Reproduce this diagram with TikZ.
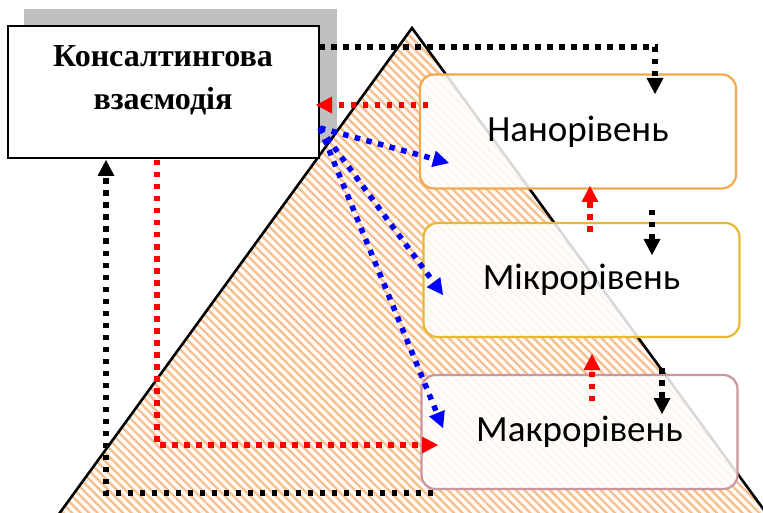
\documentclass[tikz,border=0pt]{standalone}
\usepackage{fontspec}
\setmainfont{Liberation Serif}
\newfontfamily\carl{Carlito}
\usetikzlibrary{arrows.meta,patterns.meta}
\definecolor{hatch}{HTML}{F7BE8A}
\definecolor{nanoc}{HTML}{F2A84C}
\definecolor{mikroc}{HTML}{E8B830}
\definecolor{makroc}{HTML}{CC96A0}
\definecolor{shadowc}{HTML}{BFBFBF}
\tikzdeclarepattern{
  name=myhatch,
  type=uncolored,
  bounding box={(-0.1pt,-0.1pt) and (6pt,6pt)},
  tile size={(6pt,6pt)},
  tile transformation={rotate=-45},
  code={\pgfsetlinewidth{2.2pt}\pgfpathmoveto{\pgfqpoint{-1pt}{3pt}}\pgfpathlineto{\pgfqpoint{7pt}{3pt}}\pgfusepath{stroke}}
}
\tikzset{
  con/.style={line width=5.5pt, dash pattern=on 5.5pt off 6.5pt, -{Triangle[width=17pt,length=16pt,line width=0pt]}},
  blk/.style={con, black},
  rd/.style={con, red},
  bl/.style={con, blue},
  lvl/.style={draw, line width=2.2pt, rounded corners=14pt, fill=white, fill opacity=0.85, text opacity=1,
    minimum width=316pt, minimum height=114pt, font=\carl\fontsize{37}{42}\selectfont, inner sep=0pt},
}
\begin{document}
\begin{tikzpicture}[x=1pt,y=-1pt]
\useasboundingbox (0,0) rectangle (763,513);
\begin{scope}
\clip (0,0) rectangle (763,513);
% shadow
\fill[shadowc] (24,9) rectangle (337,143);
% pyramid
\coordinate (apex) at (412,28);
\fill[hatch!6] (apex) -- (775,525) -- (51,525) -- cycle;
\fill[pattern={myhatch}, pattern color=hatch] (apex) -- (775,525) -- (51,525) -- cycle;
\draw[line width=2.6pt] (775,525) -- (apex) -- (51,525);
\end{scope}
% main box
\node[draw, line width=1.8pt, fill=white, minimum width=311pt, minimum height=132pt, inner sep=0pt] (kons) at (163.5,92) {};
\node[font=\bfseries\fontsize{32}{43}\selectfont, align=center] (konst) at (163,80) {Консалтингова\\взаємодія};
% levels
\node[lvl, draw=nanoc] (nano) at (578,131.5) {Нанорівень};
\node[lvl, draw=mikroc] (mikro) at (581.5,280) {Мікрорівень};
\node[lvl, draw=makroc] (makro) at (579.5,432) {Макрорівень};
% coordinates
\coordinate (k1) at (319,47);
\coordinate (k2) at (655,47);
\coordinate (nt) at (655,94);
\coordinate (rs) at (428,105);
\coordinate (rt) at (316,105);
\coordinate (bc) at (320,128);
\coordinate (bn) at (449,163);
\coordinate (bm) at (443,295);
\coordinate (bk) at (443,428);
\coordinate (r1s) at (590,232);
\coordinate (r1t) at (590,186);
\coordinate (r2s) at (592,401);
\coordinate (r2t) at (592,354);
\coordinate (b1s) at (652,210);
\coordinate (b1t) at (652,255);
\coordinate (b2s) at (662,368);
\coordinate (b2t) at (662,414);
\coordinate (rl1) at (157,160);
\coordinate (rl2) at (157,445);
\coordinate (rl3) at (438,445);
\coordinate (bl1) at (433,493);
\coordinate (bl2) at (106,493);
\coordinate (bl3) at (106,160);
% connectors
\draw[blk] (k1) -- (k2) -- (nt);
\draw[rd] (rs) -- (rt);
\draw[bl] (bc) -- (bn);
\draw[bl] (bc) -- (bm);
\draw[bl] (bc) -- (bk);
\draw[rd] (r1s) -- (r1t);
\draw[rd] (r2s) -- (r2t);
\draw[blk] (b1s) -- (b1t);
\draw[blk] (b2s) -- (b2t);
\draw[rd] (rl1) -- (rl2) -- (rl3);
\draw[blk] (bl1) -- (bl2) -- (bl3);
\end{tikzpicture}
\end{document}
